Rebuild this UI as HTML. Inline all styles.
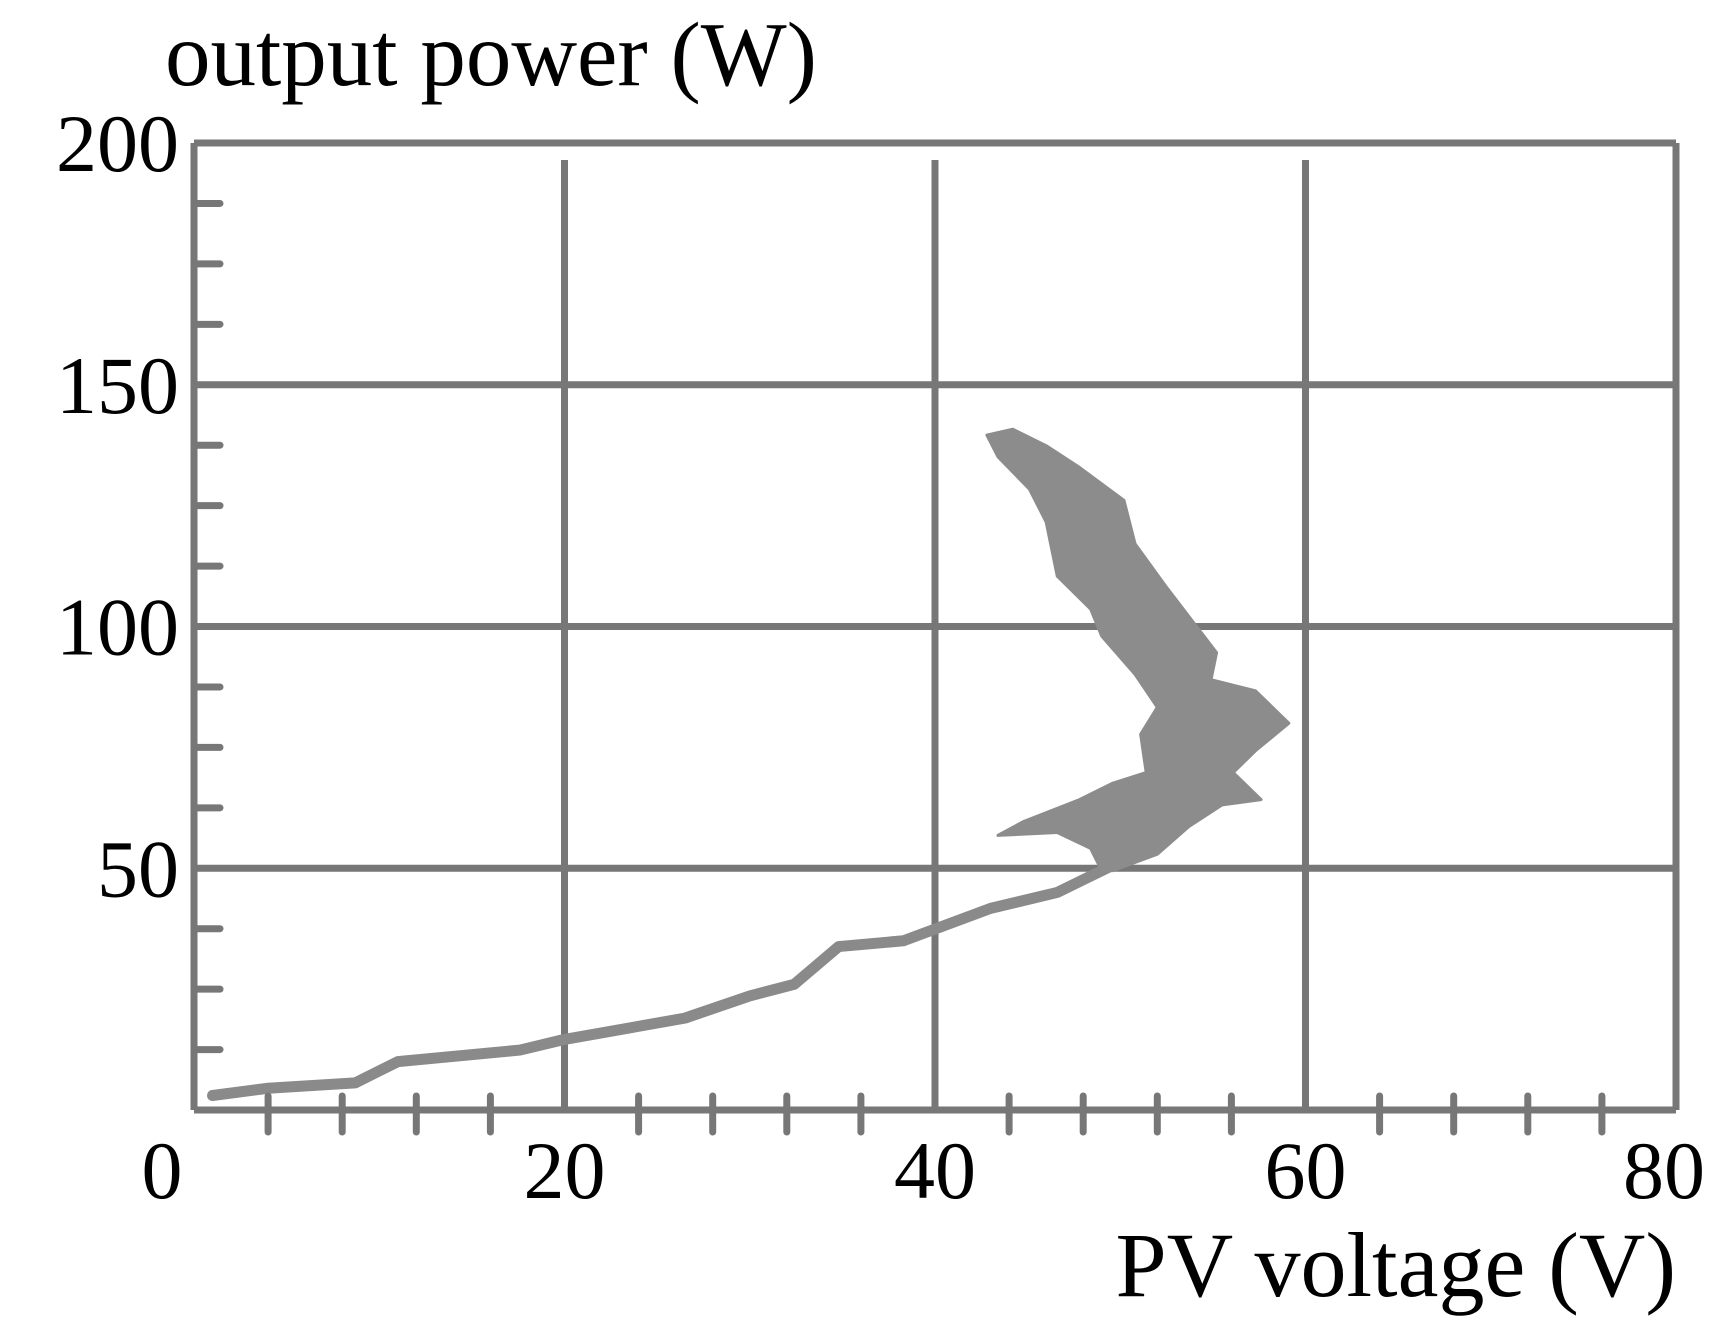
<!DOCTYPE html>
<html><head><meta charset="utf-8"><style>
html,body{margin:0;padding:0;background:#fff}
svg{display:block}
text{font-family:"Liberation Serif",serif;fill:#000}
</style></head><body>
<svg id="chart" width="1720" height="1333" viewBox="0 0 1720 1333" xmlns="http://www.w3.org/2000/svg">
<g id="grid"></g>
<g id="data"></g>
<g id="axes"></g>
<g id="labels"></g>
<text x="165" y="85" font-size="91">output power (W)</text>
<text x="1676" y="1296" font-size="92" text-anchor="end">PV voltage (V)</text>
</svg>
<script>
const xTicks=[0,20,40,60,80];
const yTicks=[0,50,100,150,200];
const curveV=[1,4,8.7,11,17.6,20,26.5,30,32.4,34.8,38.3,43,46.6,49,51.4];
const curveP=[3,4.5,5.6,10,12.4,14.6,19,23.6,26,33.8,35,41.7,45,49.5,54];
const blobV=[42.8,44.2,46.0,47.8,50.2,50.8,52.5,54.3,55.2,54.9,57.3,59.1,57.3,56.1,57.6,55.5,53.7,52,49.6,49,48.4,46.6,43.4,44.8,47.8,49.6,51.4,51.1,52,50.8,49,48.4,46.6,46,45.1,43.4];
const blobP=[139.6,140.8,137.4,132.9,126.1,117.1,108.1,99.1,94.6,89,86.7,80,74.3,69.8,64.2,63.1,58.6,52.9,49.5,49.5,54.1,57.4,56.8,59.7,64.2,67.6,69.8,77.7,83.3,90.1,98,103.6,110.4,121.6,128.4,135.1];
const X0=194,X1=1676,Y0=1110,Y1=143;
const sx=v=>X0+(v-0)/80*(X1-X0);
const sy=p=>Y0-(p-0)/200*(Y0-Y1);
const NS="http://www.w3.org/2000/svg";
function mk(tag,parent,attrs){const e=document.createElementNS(NS,tag);for(const k in attrs)e.setAttribute(k,attrs[k]);parent.appendChild(e);return e;}
const grid=document.getElementById('grid'),axes=document.getElementById('axes'),labels=document.getElementById('labels'),data=document.getElementById('data');
const C="#777",W=7;
yTicks.forEach(t=>{if(t===0)return;const l=mk('line',grid,{x1:X0,x2:X1,y1:sy(t),y2:sy(t),stroke:C,'stroke-width':W});

});
xTicks.forEach(t=>{if(t===0)return;const l=mk('line',grid,{x1:sx(t),x2:sx(t),y1:t===80?Y1:Y1+17,y2:Y0,stroke:C,'stroke-width':W});

});
const ax=mk('line',axes,{x1:X0,x2:X1,y1:Y0,y2:Y0,stroke:C,'stroke-width':W});


const ay=mk('line',axes,{x1:X0,x2:X0,y1:Y1,y2:Y0,stroke:C,'stroke-width':W});


for(let v=4;v<80;v+=4){if(v%20===0)continue;const l=mk('line',axes,{x1:sx(v),x2:sx(v),y1:Y0-14,y2:Y0+22,stroke:C,'stroke-width':W,'stroke-linecap':'round'});

}
for(let p=12.5;p<200;p+=12.5){if(p%50===0)continue;const l=mk('line',axes,{x1:X0,x2:X0+26,y1:sy(p),y2:sy(p),stroke:C,'stroke-width':W,'stroke-linecap':'round'});

}
xTicks.forEach(t=>{const dx=t===0?-32:(t===80?-12:0);const e=mk('text',labels,{x:sx(t)+dx,y:1198,'font-size':82,'text-anchor':'middle'});e.textContent=t;

});
yTicks.forEach(t=>{if(t===0)return;const e=mk('text',labels,{x:X0-15,y:sy(t)+28,'font-size':82,'text-anchor':'end'});e.textContent=t;

});
const curve=mk('polyline',data,{points:curveV.map((v,i)=>sx(v)+','+sy(curveP[i])).join(' '),fill:'none',stroke:'#8a8a8a','stroke-width':11,'stroke-linejoin':'round','stroke-linecap':'round'});


const blob=mk('polygon',data,{points:blobV.map((v,i)=>sx(v)+','+sy(blobP[i])).join(' '),fill:'#8c8c8c',stroke:'#8c8c8c','stroke-width':3,'stroke-linejoin':'round'});


</script>
</body></html>
